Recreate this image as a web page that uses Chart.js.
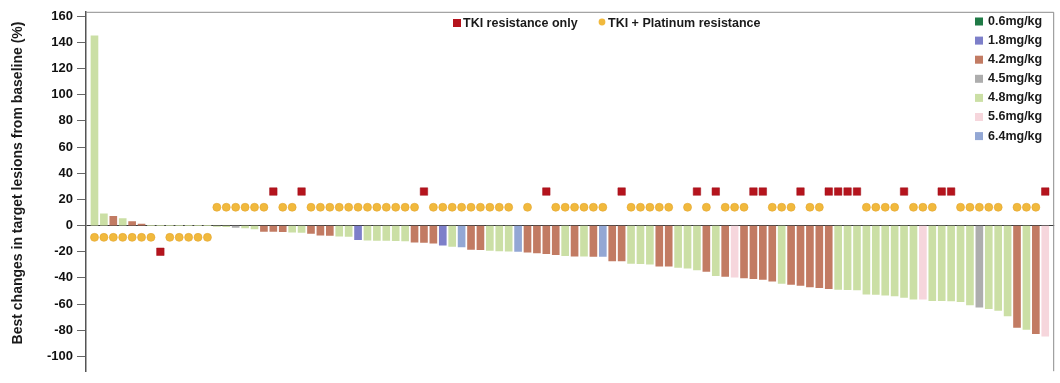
<!DOCTYPE html>
<html>
<head>
<meta charset="utf-8">
<title>Best change in target lesions</title>
<script src="https://cdn.jsdelivr.net/npm/chart.js@4.4.1/dist/chart.umd.min.js"></script>
<style>
  html, body { margin: 0; padding: 0; background: #ffffff; overflow: hidden; }
  canvas { display: block; }
</style>
</head>
<body>
<canvas id="waterfall" width="1060" height="383"></canvas>
<script>
// Best % change from baseline in target lesions, one value per patient (sorted waterfall)
const bestChange = [
  145, 9, 7, 5.4, 3, 1.2, 0, 0, 0, 0,
  0, 0, 0, -0.6, -0.8, -1.5, -1.8, -2.5, -4.5, -4.5,
  -4.7, -5, -5.2, -6, -7.4, -7.5, -8, -8.3, -10.8, -11.2,
  -11.3, -11.4, -11.5, -11.7, -12.6, -12.8, -13.5, -15, -16, -16.3,
  -18.3, -18.5, -19, -19.3, -19.5, -19.8, -20.3, -20.8, -21.4, -22.2,
  -23, -23.4, -23.4, -23.6, -23.6, -27, -27.1, -29, -29.2, -29.4,
  -31, -31, -32, -32.6, -33.8, -35, -38.2, -38.8, -39.4, -40,
  -40.5, -41.2, -42.5, -44.2, -45, -45.8, -46.8, -47.5, -48.2, -48.8,
  -48.9, -49.2, -52.4, -52.6, -53.2, -53.7, -55, -56.2, -56.3, -57.3,
  -57.4, -57.5, -58.1, -60.6, -62.3, -63.5, -64.8, -69, -77.8, -79.4,
  -82.7, -84.5
];

// Dose level (mg/kg) of each patient
const doseByPatient = [
  '4.8', '4.8', '4.2', '4.8', '4.2', '4.2', '4.8', '4.8', '4.8', '4.8',
  '4.8', '4.8', '4.8', '4.8', '4.8', '4.5', '4.8', '4.8', '4.2', '4.2',
  '4.2', '4.8', '4.8', '4.2', '4.2', '4.2', '4.8', '4.8', '1.8', '4.8',
  '4.8', '4.8', '4.8', '4.8', '4.2', '4.2', '4.2', '1.8', '4.8', '6.4',
  '4.2', '4.2', '4.8', '4.8', '4.8', '6.4', '4.2', '4.2', '4.2', '4.2',
  '4.8', '4.2', '4.8', '4.2', '6.4', '4.2', '4.2', '4.8', '4.8', '4.8',
  '4.2', '4.2', '4.8', '4.8', '4.8', '4.2', '4.8', '4.2', '5.6', '4.2',
  '4.2', '4.2', '4.2', '4.8', '4.2', '4.2', '4.2', '4.2', '4.2', '4.8',
  '4.8', '4.8', '4.8', '4.8', '4.8', '4.8', '4.8', '4.8', '5.6', '4.8',
  '4.8', '4.8', '4.8', '4.8', '4.5', '4.8', '4.8', '4.8', '4.2', '4.8',
  '4.2', '5.6'
];

// Resistance group: 'T' = TKI resistance only, 'P' = TKI + platinum resistance, '' = not reported
const resistanceGroup = [
  'P', 'P', 'P', 'P', 'P', 'P', 'P', 'T', 'P', 'P',
  'P', 'P', 'P', 'P', 'P', 'P', 'P', 'P', 'P', 'T',
  'P', 'P', 'T', 'P', 'P', 'P', 'P', 'P', 'P', 'P',
  'P', 'P', 'P', 'P', 'P', 'T', 'P', 'P', 'P', 'P',
  'P', 'P', 'P', 'P', 'P', '',  'P', '',  'T', 'P',
  'P', 'P', 'P', 'P', 'P', '',  'T', 'P', 'P', 'P',
  'P', 'P', '',  'P', 'T', 'P', 'T', 'P', 'P', 'P',
  'T', 'T', 'P', 'P', 'P', 'T', 'P', 'P', 'T', 'T',
  'T', 'T', 'P', 'P', 'P', 'P', 'T', 'P', 'P', 'P',
  'T', 'T', 'P', 'P', 'P', 'P', 'P', '',  'P', 'P',
  'P', 'T'
];

const doseLevels = ['0.6', '1.8', '4.2', '4.5', '4.8', '5.6', '6.4'];
const doseColors = ['#1f7a46', '#7d7fc9', '#c27b63', '#adadad', '#cbdfa5', '#f6d6dc', '#93a7d4'];
const groupLabels = ['TKI resistance only', 'TKI + Platinum resistance'];

// Marker rows: above the zero line for shrinking lesions, below it for growing ones
const markerRows = { dotAbove: 14, squareAbove: 26, dotBelow: -9, squareBelow: -20 };

const yTicks = [160, 140, 120, 100, 80, 60, 40, 20, 0, -20, -40, -60, -80, -100];
const yTitle = 'Best changes in target lesions from baseline (%)';

const FONT = "'Liberation Sans', Arial, Helvetica, sans-serif";

const barPoints = bestChange.map((v, i) => ({ x: i, y: v }));
const barColors = doseByPatient.map(d => doseColors[doseLevels.indexOf(d)]);

const platinumPoints = [];
const tkiOnlyPoints = [];
resistanceGroup.forEach((g, i) => {
  const growing = bestChange[i] >= 0;
  if (g === 'P') platinumPoints.push({ x: i, y: growing ? markerRows.dotBelow : markerRows.dotAbove });
  if (g === 'T') tkiOnlyPoints.push({ x: i, y: growing ? markerRows.squareBelow : markerRows.squareAbove });
});

// Frame, rotated axis title and the two legends
const decorations = {
  id: 'decorations',
  beforeDatasetsDraw(chart) {
    const { ctx, chartArea: a } = chart;
    ctx.save();
    ctx.strokeStyle = '#8c8c8c';
    ctx.lineWidth = 1;
    ctx.beginPath();
    ctx.moveTo(a.left, a.top + 0.5);
    ctx.lineTo(a.right - 0.5, a.top + 0.5);
    ctx.lineTo(a.right - 0.5, a.bottom);
    ctx.stroke();
    ctx.restore();
  },
  afterDraw(chart) {
    const { ctx } = chart;
    ctx.save();

    // y-axis title
    ctx.translate(18, 183);
    ctx.rotate(-Math.PI / 2);
    ctx.fillStyle = '#1a1a1a';
    ctx.font = 'bold 14px ' + FONT;
    ctx.textAlign = 'center';
    ctx.textBaseline = 'middle';
    ctx.fillText(yTitle, 0, 0);
    ctx.setTransform(1, 0, 0, 1, 0, 0);

    // resistance-group legend
    ctx.font = 'bold 12.5px ' + FONT;
    ctx.textAlign = 'left';
    ctx.textBaseline = 'middle';
    ctx.fillStyle = '#b5141d';
    ctx.fillRect(453, 19, 8, 8);
    ctx.fillStyle = '#1a1a1a';
    ctx.fillText(groupLabels[0], 463, 24);
    ctx.fillStyle = '#f1b93d';
    ctx.beginPath();
    ctx.arc(602, 22, 3.4, 0, Math.PI * 2);
    ctx.fill();
    ctx.fillStyle = '#1a1a1a';
    ctx.fillText(groupLabels[1], 608, 24);

    // dose legend
    doseLevels.forEach((d, k) => {
      const y = 21.5 + k * 19.1;
      ctx.fillStyle = doseColors[k];
      ctx.fillRect(975, y - 4, 8, 8);
      ctx.fillStyle = '#1a1a1a';
      ctx.fillText(d + 'mg/kg', 988, y);
    });
    ctx.restore();
  }
};

new Chart(document.getElementById('waterfall'), {
  type: 'bar',
  data: {
    datasets: [
      {
        type: 'scatter',
        label: groupLabels[0],
        data: tkiOnlyPoints,
        pointStyle: 'rect',
        pointRadius: 5.3,
        backgroundColor: '#b5141d',
        borderColor: '#a0111a',
        borderWidth: 0.5,
        order: 0
      },
      {
        type: 'scatter',
        label: groupLabels[1],
        data: platinumPoints,
        pointStyle: 'circle',
        pointRadius: 4,
        backgroundColor: '#f1b93d',
        borderColor: '#e2a52e',
        borderWidth: 0.6,
        order: 1
      },
      {
        type: 'bar',
        label: 'Best change',
        data: barPoints,
        backgroundColor: barColors,
        borderWidth: 0,
        barThickness: 7,
        order: 2
      }
    ]
  },
  options: {
    responsive: false,
    animation: false,
    events: [],
    layout: { padding: { top: 11, right: 1, left: 0, bottom: 0 } },
    plugins: { legend: { display: false }, tooltip: { enabled: false } },
    scales: {
      x: {
        type: 'linear',
        min: -0.9,
        max: 101.95,
        display: false,
        offset: false
      },
      y: {
        type: 'linear',
        min: -111.3,
        max: 163.4,
        afterBuildTicks: s => { s.ticks = yTicks.map(v => ({ value: v })); },
        afterFit: s => { s.width = 86; },
        ticks: { padding: 4, color: '#111111', font: { family: FONT, size: 13, weight: 'bold' } },
        grid: {
          drawOnChartArea: true,
          color: c => (c.tick && c.tick.value === 0 ? '#3c3c3c' : 'rgba(0,0,0,0)'),
          tickColor: '#666666',
          tickLength: 9,
          lineWidth: 1
        },
        border: { display: true, color: '#555555', width: 1.5 }
      }
    }
  },
  plugins: [decorations]
});
</script>
</body>
</html>
